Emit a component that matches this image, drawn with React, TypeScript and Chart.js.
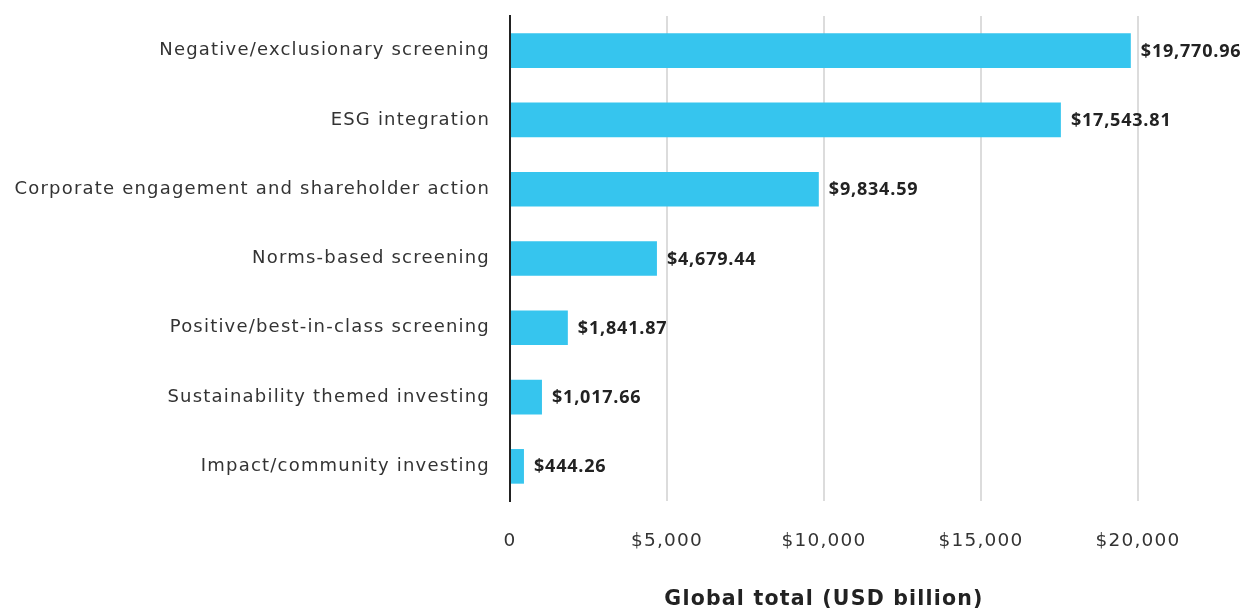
import React, { useEffect, useRef } from "react";
import { Chart, registerables } from "chart.js";

Chart.register(...registerables);

const categories = [
  "Negative/exclusionary screening",
  "ESG integration",
  "Corporate engagement and shareholder action",
  "Norms-based screening",
  "Positive/best-in-class screening",
  "Sustainability themed investing",
  "Impact/community investing",
];
const values = [19770.96, 17543.81, 9834.59, 4679.44, 1841.87, 1017.66, 444.26];
const xTicks = [0, 5000, 10000, 15000, 20000];
const axisTitle = "Global total (USD billion)";

const FONT = "'DejaVu Sans', sans-serif";
const LABEL_FONT = "'Open Sans', sans-serif";
const BAR_COLOR = "#36C5EE";
const SPACING = "1.2px";

const spacingPlugin = {
  id: "spacing",
  beforeUpdate(chart: any) {
    chart.ctx.letterSpacing = SPACING;
  },
  beforeDraw(chart: any) {
    chart.ctx.letterSpacing = SPACING;
  },
};

const valueLabels = {
  id: "valueLabels",
  afterDatasetsDraw(chart: any) {
    const ctx = chart.ctx;
    const meta = chart.getDatasetMeta(0);
    ctx.save();
    ctx.letterSpacing = "0.8px";
    ctx.font = `bold 18px ${LABEL_FONT}`;
    ctx.fillStyle = "#222";
    ctx.textAlign = "left";
    ctx.textBaseline = "middle";
    meta.data.forEach((bar: any, i: number) => {
      const v = values[i];
      const txt = "$" + v.toLocaleString("en-US", { minimumFractionDigits: 2, maximumFractionDigits: 2 });
      ctx.fillText(txt, bar.x + 10, bar.y + 1);
    });
    ctx.restore();
  },
};

export default function App() {
  const ref = useRef<HTMLCanvasElement | null>(null);
  useEffect(() => {
    document.body.style.margin = "0";
    const chart = new Chart(ref.current!, {
      type: "bar",
      data: {
        labels: categories,
        datasets: [
          {
            data: values,
            backgroundColor: BAR_COLOR,
            barPercentage: 0.5,
            categoryPercentage: 1,
          },
        ],
      },
      options: {
        indexAxis: "y",
        animation: false,
        responsive: true,
        maintainAspectRatio: false,
        layout: { padding: { top: 16, right: 113, left: 0, bottom: 0 } },
        plugins: { legend: { display: false }, tooltip: { enabled: false } },
        scales: {
          x: {
            min: 0,
            max: 20000,
            afterBuildTicks(scale: any) {
              scale.ticks = xTicks.map((v) => ({ value: v }));
            },
            afterFit(scale: any) {
              scale.height = 108;
              scale.paddingLeft = 0;
              scale.paddingRight = 0;
            },
            ticks: {
              padding: 29,
              color: "#333",
              font: { family: FONT, size: 18.5 },
              callback: (v: any) => (Number(v) === 0 ? "0" : "$" + Number(v).toLocaleString("en-US")),
            },
            grid: { color: "#dcdcdc", lineWidth: 2, drawTicks: false },
            border: { display: false },
            title: {
              display: true,
              text: axisTitle,
              color: "#222",
              font: { family: FONT, size: 20.5, weight: "bold" },
              padding: { top: 0, bottom: -3 },
            },
          },
          y: {
            afterFit(scale: any) {
              scale.width = 510;
              scale.paddingTop = 0;
              scale.paddingBottom = 0;
            },
            ticks: {
              padding: 20,
              color: "#333",
              font: { family: FONT, size: 18 },
            },
            grid: { display: false, drawTicks: false },
            border: { display: true, color: "#222", width: 2 },
          },
        },
      },
      plugins: [spacingPlugin, valueLabels],
    });
    return () => chart.destroy();
  }, []);
  return (
    <div style={{ position: "relative", width: 1251, height: 609 }}>
      <canvas ref={ref} />
    </div>
  );
}
